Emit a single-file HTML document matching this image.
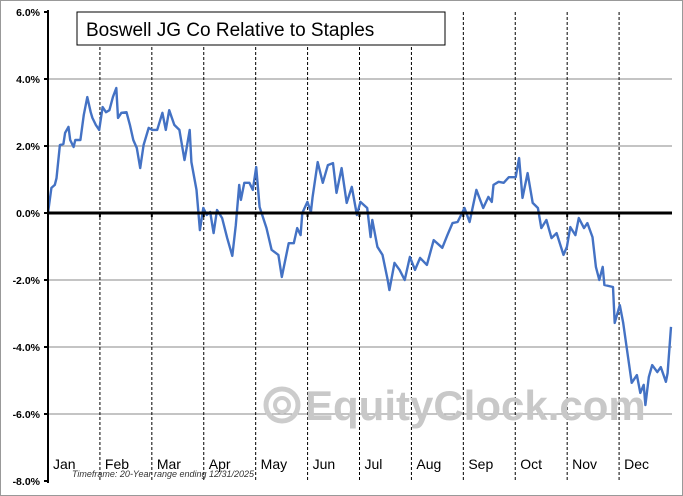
<!DOCTYPE html>
<html><head><meta charset="utf-8"><style>
html,body{margin:0;padding:0;background:#fff}
svg{display:block;font-family:"Liberation Sans",sans-serif}
</style></head><body>
<svg id="chart" width="683" height="496">
<rect x="0.5" y="0.5" width="682" height="495" fill="#fff" stroke="#999"/>
<g id="grid"></g>
<g>
<circle cx="282" cy="405" r="16" fill="none" stroke="#ccc" stroke-width="5"/>
<circle cx="282" cy="405" r="7" fill="none" stroke="#ccc" stroke-width="4"/>
<text x="305" y="420" font-size="42" font-weight="bold" fill="#c8c8c8">EquityClock.com</text>
</g>
<g id="series"></g>
<g id="axes"></g>
<rect x="77" y="12" width="368" height="33" fill="#fff" stroke="#000"/>
<text x="86" y="36" font-size="19" fill="#000">Boswell JG Co Relative to Staples</text>
<text x="72" y="477" font-size="9" font-style="italic" fill="#333">Timeframe: 20-Year range ending 12/31/2025</text>
</svg>
<script>
const days=[0,2,4,5,7,9,10,12,13,15,16,19,21,23,25,26,28,30,32,34,36,38,40,41,43,46,48,50,52,54,56,59,61,64,67,69,71,74,77,80,81,83,84,87,89,91,93,95,97,99,102,105,108,110,112,113,115,118,120,122,124,128,131,135,137,139,141,144,146,148,149,152,154,155,158,161,164,167,169,172,175,178,181,183,187,189,190,193,196,199,200,203,206,209,212,215,218,222,226,231,234,237,240,244,247,251,255,258,260,261,264,267,270,274,276,278,281,284,287,289,292,295,298,302,304,306,309,311,314,316,319,321,323,325,326,331,332,335,337,339,342,345,347,349,350,352,354,357,359,362,363,365];
const values=[0,0.75,0.84,1.04,2.03,2.06,2.39,2.57,2.18,1.97,2.18,2.18,2.93,3.46,3.01,2.84,2.63,2.48,3.16,3.01,3.07,3.46,3.73,2.84,2.99,3.01,2.63,2.18,1.94,1.34,2.03,2.54,2.48,2.48,2.99,2.48,3.07,2.63,2.48,1.58,1.88,2.48,1.52,0.69,-0.51,0.15,-0.06,0.03,-0.60,0.09,-0.15,-0.75,-1.28,-0.36,0.84,0.39,0.90,0.90,0.69,1.37,0.18,-0.45,-1.10,-1.25,-1.91,-1.40,-0.90,-0.90,-0.45,-0.66,0,0.33,0.03,0.48,1.52,0.90,1.43,1.49,0.60,1.34,0.30,0.78,-0.06,0.33,0.15,-0.72,-0.21,-1.01,-1.25,-2.00,-2.30,-1.49,-1.70,-2.00,-1.31,-1.70,-1.34,-1.55,-0.81,-1.04,-0.66,-0.30,-0.27,0.15,-0.27,0.69,0.15,0.48,0.33,0.84,0.93,0.90,1.07,1.07,1.64,0.45,1.19,0.30,0.15,-0.45,-0.21,-0.75,-0.60,-1.25,-1.01,-0.42,-0.66,-0.15,-0.45,-0.30,-0.72,-1.61,-2.00,-1.61,-2.15,-2.21,-3.28,-2.75,-3.28,-4.00,-5.07,-4.84,-5.37,-5.13,-5.73,-4.90,-4.54,-4.75,-4.60,-5.04,-4.78,-3.40];
const yTicks=[6,4,2,0,-2,-4,-6,-8];
const months=["Jan","Feb","Mar","Apr","May","Jun","Jul","Aug","Sep","Oct","Nov","Dec"];
const NS="http://www.w3.org/2000/svg";
const X0=48,X1=671,Y0=213,PPU=33.5;
const xs=d=>X0+d/365*(X1-X0);
const ys=v=>Y0-v*PPU;
function mk(t,a,p){const e=document.createElementNS(NS,t);for(const k in a)e.setAttribute(k,a[k]);p.appendChild(e);return e;}
const grid=document.getElementById('grid'),axes=document.getElementById('axes'),ser=document.getElementById('series');
yTicks.forEach(v=>{
  const y=ys(v);
  if(v!==0&&v!==-8&&v!==6){const l=mk('line',{x1:X0,x2:X1+1,y1:y,y2:y,stroke:'#888','stroke-width':1},grid);
  
  }
  const t=mk('text',{x:40,y:y+4,'text-anchor':'end','font-size':10.5,'font-weight':'bold',fill:'#000'},axes);
  t.textContent=v.toFixed(1)+'%';
  
  
  const tk=mk('line',{x1:X0-4,x2:X0,y1:y,y2:y,stroke:'#000','stroke-width':2},axes);
  
  
});
const mw=(X1-X0)/12;
months.forEach((m,i)=>{
  const x=X0+i*mw;
  if(i>0){const l=mk('line',{x1:x,x2:x,y1:12,y2:481,stroke:'#000','stroke-width':1,'stroke-dasharray':'3,2'},grid);
  
  
  const tk=mk('line',{x1:x,x2:x,y1:Y0,y2:Y0+4,stroke:'#000','stroke-width':2},axes);
  
  }
  const t=mk('text',{x:x+5,y:469,'text-anchor':'start','font-size':14,fill:'#000'},axes);
  t.textContent=m;
  
  
});
const z=mk('line',{x1:X0,x2:X1+1,y1:Y0,y2:Y0,stroke:'#000','stroke-width':3},axes);


const ya=mk('line',{x1:X0,x2:X0,y1:10,y2:483,stroke:'#000','stroke-width':2},axes);


const p=mk('polyline',{points:days.map((d,i)=>xs(d).toFixed(1)+','+ys(values[i]).toFixed(1)).join(' '),fill:'none',stroke:'#4472c4','stroke-width':2.4,'stroke-linejoin':'round'},ser);


</script>
</body></html>
